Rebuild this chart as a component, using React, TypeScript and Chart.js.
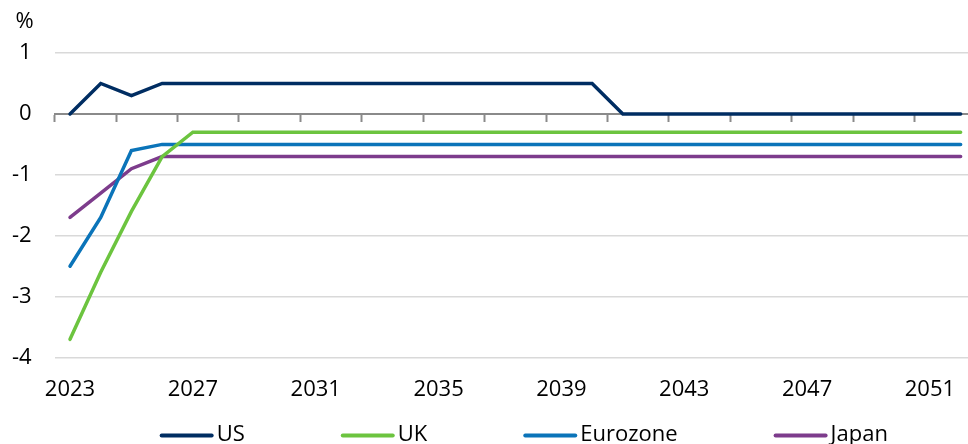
import React, { useEffect, useRef } from 'react';
import { Chart, registerables } from 'chart.js';

Chart.register(...registerables);

const years = [
  '2023', '2024', '2025', '2026', '2027', '2028', '2029', '2030', '2031', '2032',
  '2033', '2034', '2035', '2036', '2037', '2038', '2039', '2040', '2041', '2042',
  '2043', '2044', '2045', '2046', '2047', '2048', '2049', '2050', '2051', '2052',
];

const usValues = [
  0, 0.5, 0.3, 0.5, 0.5, 0.5, 0.5, 0.5, 0.5, 0.5,
  0.5, 0.5, 0.5, 0.5, 0.5, 0.5, 0.5, 0.5, 0, 0,
  0, 0, 0, 0, 0, 0, 0, 0, 0, 0,
];

const ukValues = [
  -3.7, -2.6, -1.6, -0.7, -0.3, -0.3, -0.3, -0.3, -0.3, -0.3,
  -0.3, -0.3, -0.3, -0.3, -0.3, -0.3, -0.3, -0.3, -0.3, -0.3,
  -0.3, -0.3, -0.3, -0.3, -0.3, -0.3, -0.3, -0.3, -0.3, -0.3,
];

const eurozoneValues = [
  -2.5, -1.7, -0.6, -0.5, -0.5, -0.5, -0.5, -0.5, -0.5, -0.5,
  -0.5, -0.5, -0.5, -0.5, -0.5, -0.5, -0.5, -0.5, -0.5, -0.5,
  -0.5, -0.5, -0.5, -0.5, -0.5, -0.5, -0.5, -0.5, -0.5, -0.5,
];

const japanValues = [
  -1.7, -1.3, -0.9, -0.7, -0.7, -0.7, -0.7, -0.7, -0.7, -0.7,
  -0.7, -0.7, -0.7, -0.7, -0.7, -0.7, -0.7, -0.7, -0.7, -0.7,
  -0.7, -0.7, -0.7, -0.7, -0.7, -0.7, -0.7, -0.7, -0.7, -0.7,
];

const seriesNames = ['US', 'UK', 'Eurozone', 'Japan'];
const seriesColors = ['#002d62', '#6cc43f', '#0b74b9', '#7d3c8c'];
const yUnit = '%';

const FONT_FAMILY = "'Open Sans', 'Noto Sans', sans-serif";

const unitLabelPlugin = {
  id: 'unitLabel',
  afterDraw(chart: any) {
    const { ctx, chartArea } = chart;
    const yScale = chart.scales.y;
    ctx.save();
    ctx.font = `22px ${FONT_FAMILY}`;
    ctx.fillStyle = '#000';
    ctx.textAlign = 'right';
    ctx.textBaseline = 'middle';
    ctx.fillText(yUnit, yScale.right - 21, chartArea.top - 31);
    ctx.restore();
  },
};

const bottomLegendPlugin = {
  id: 'bottomLegend',
  afterDraw(chart: any) {
    const { ctx, chartArea } = chart;
    ctx.save();
    ctx.font = `22px ${FONT_FAMILY}`;
    ctx.textAlign = 'left';
    ctx.textBaseline = 'middle';
    const lineW = 54;
    const textGap = 3;
    const itemGap = 96;
    const y = chartArea.bottom + 78;
    let x = chartArea.left + 105;
    chart.data.datasets.forEach((ds: any) => {
      ctx.strokeStyle = ds.borderColor;
      ctx.lineWidth = 4;
      ctx.lineCap = 'round';
      ctx.beginPath();
      ctx.moveTo(x + 2, y);
      ctx.lineTo(x + lineW - 2, y);
      ctx.stroke();
      x += lineW + textGap;
      ctx.fillStyle = '#000';
      ctx.fillText(ds.label, x, y - 1);
      x += ctx.measureText(ds.label).width + itemGap;
    });
    ctx.restore();
  },
};

export default function App() {
  const canvasRef = useRef<HTMLCanvasElement | null>(null);

  useEffect(() => {
    const canvas = canvasRef.current;
    if (!canvas) return;
    const seriesValues = [usValues, ukValues, eurozoneValues, japanValues];
    const chart = new Chart(canvas, {
      type: 'line',
      data: {
        labels: years,
        datasets: seriesNames.map((name, i) => ({
          label: name,
          data: seriesValues[i],
          borderColor: seriesColors[i],
          backgroundColor: seriesColors[i],
          borderWidth: 3.5,
          pointRadius: 0,
          tension: 0,
          fill: false,
          borderCapStyle: 'round',
          borderJoinStyle: 'miter',
        })),
      },
      options: {
        responsive: false,
        animation: false,
        layout: { padding: { top: 53, left: 12, right: 8, bottom: 57 } },
        plugins: {
          legend: { display: false },
          tooltip: { enabled: false },
        },
        scales: {
          x: {
            type: 'category',
            offset: true,
            grid: { display: false, drawTicks: false },
            border: { display: false },
            ticks: {
              autoSkip: false,
              maxRotation: 0,
              padding: 19,
              color: '#000',
              font: { family: FONT_FAMILY, size: 22 },
              callback: (_v: any, idx: number) => (idx % 4 === 0 ? years[idx] : ''),
            },
            afterFit: (scale: any) => {
              scale.height = scale.height - scale.options.ticks.padding;
            },
          },
          x2: {
            type: 'category',
            position: { y: 0 } as any,
            offset: true,
            grid: {
              offset: true,
              drawOnChartArea: false,
              drawTicks: true,
              tickLength: 7,
              tickWidth: 2,
              color: 'rgba(0,0,0,0)',
              tickColor: (c: any) => (c.index % 2 === 0 ? '#8a8a8a' : 'rgba(0,0,0,0)'),
            },
            border: { display: true, color: '#8a8a8a', width: 2 },
            ticks: { display: false, autoSkip: false },
          },
          y: {
            min: -4,
            max: 1,
            border: { display: false },
            grid: {
              drawTicks: false,
              lineWidth: 1.5,
              color: (c: any) => (c.tick && c.tick.value === 0 ? 'rgba(0,0,0,0)' : '#d9d9d9'),
            },
            ticks: {
              stepSize: 1,
              padding: 23,
              color: '#000',
              font: { family: FONT_FAMILY, size: 22 },
            },
            afterFit: (scale: any) => {
              scale.width = scale.width - scale.options.ticks.padding;
            },
          },
        },
      },
      plugins: [unitLabelPlugin, bottomLegendPlugin],
    } as any);
    return () => chart.destroy();
  }, []);

  return (
    <div
      style={{
        position: 'fixed',
        left: 0,
        top: 0,
        width: '100vw',
        height: '100vh',
        overflow: 'hidden',
        background: '#fff',
      }}
    >
      <canvas ref={canvasRef} width={984} height={460} style={{ display: 'block' }} />
    </div>
  );
}
